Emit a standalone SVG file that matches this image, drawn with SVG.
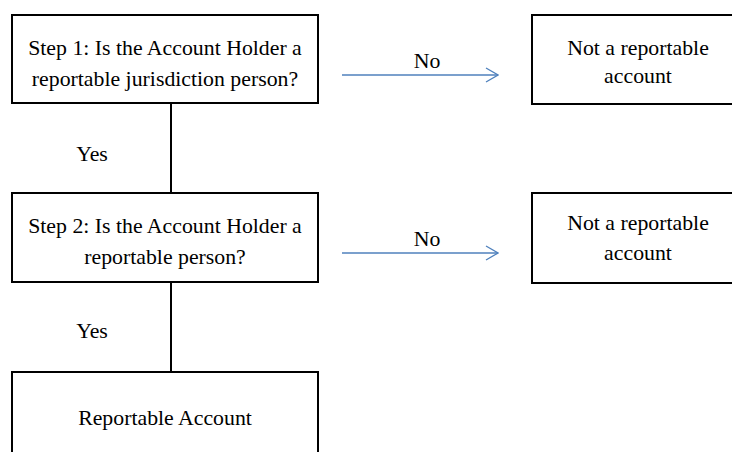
<svg xmlns="http://www.w3.org/2000/svg" width="733" height="452" viewBox="0 0 733 452">
  <defs>
    <style>
      .box { fill: none; stroke: #000; stroke-width: 2; }
      .link { fill: none; stroke: #000; stroke-width: 2; }
      .no { fill: none; stroke: #4F81BD; stroke-width: 1.3; }
    </style>
    <marker id="open" viewBox="0 0 14 16" refX="13" refY="8" markerWidth="14" markerHeight="16" markerUnits="userSpaceOnUse" orient="auto">
      <path d="M1,1 L13,8 L1,15" fill="none" stroke="#4F81BD" stroke-width="1.3"/>
    </marker>
  </defs>
  <rect width="733" height="452" fill="#fff"/>

  <g font-family="Liberation Serif, DejaVu Serif, serif" font-size="21.8" fill="#000" text-anchor="middle">
  <g id="connectors">
    <line class="link" x1="171" y1="103" x2="171" y2="193"/>
    <line class="link" x1="171" y1="282" x2="171" y2="372"/>
    <line class="no" x1="342" y1="75" x2="498" y2="75" marker-end="url(#open)"/>
    <line class="no" x1="342" y1="253" x2="498" y2="253" marker-end="url(#open)"/>
    <text x="92" y="160.5">Yes</text>
    <text x="92" y="337.5">Yes</text>
    <text x="427" y="67.5">No</text>
    <text x="427" y="245.5">No</text>
  </g>

  <g id="step1">
    <rect class="box" x="12" y="15" width="306" height="88"/>
    <text x="165" y="54.5">Step 1: Is the Account Holder a</text>
    <text x="165" y="85.5">reportable jurisdiction person?</text>
  </g>

  <g id="not-reportable-1">
    <path class="box" d="M732,15 H532 V104 H732"/>
    <text x="638" y="54.5">Not a reportable</text>
    <text x="638" y="82.5">account</text>
  </g>

  <g id="step2">
    <rect class="box" x="12" y="193" width="306" height="89"/>
    <text x="165" y="232.5">Step 2: Is the Account Holder a</text>
    <text x="165" y="263.5">reportable person?</text>
  </g>

  <g id="not-reportable-2">
    <path class="box" d="M732,193 H532 V283 H732"/>
    <text x="638" y="229.5">Not a reportable</text>
    <text x="638" y="259.5">account</text>
  </g>

  <g id="reportable-account">
    <path class="box" d="M12,452 V372 H318 V452"/>
    <text x="165" y="424.5">Reportable Account</text>
  </g>
  </g>
</svg>
